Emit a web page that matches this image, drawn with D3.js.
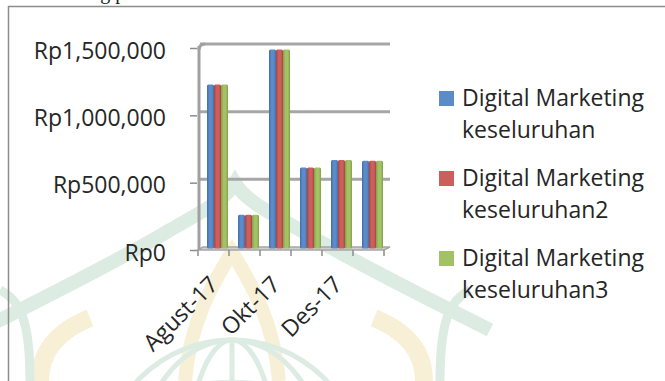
<!DOCTYPE html>
<html>
<head>
<meta charset="utf-8">
<script src="https://cdn.jsdelivr.net/npm/d3@7"></script>
<style>
  body { margin: 0; background: #fff; }
  svg { display: block; font-family: "Open Sans", sans-serif; }
</style>
</head>
<body>
<svg id="chart" width="665" height="381"></svg>
<script>
// data
const months = ['Agust-17', 'Sep-17', 'Okt-17', 'Nov-17', 'Des-17', 'Jan-18'];
const seriesNames = ['Digital Marketing keseluruhan', 'Digital Marketing keseluruhan2', 'Digital Marketing keseluruhan3'];
const dm1 = [1215000, 250000, 1475000, 600000, 655000, 650000];
const dm2 = [1215000, 250000, 1475000, 600000, 655000, 650000];
const dm3 = [1215000, 250000, 1475000, 600000, 655000, 650000];
const yTicks = [0, 500000, 1000000, 1500000];
const colors = ['#5b8bc9', '#cc5f5b', '#a3c265'];
const darks = ['#416ea9', '#a8443f', '#819f48'];

const svg = d3.select('#chart');
const font = '"Open Sans", sans-serif';

// watermark behind everything
const wm = svg.append('g').attr('fill', 'none');
const green = '#dcece2', gold = '#f8f0d6';
wm.append('path')
    .attr('d', 'M -20,330 C 40,300 120,260 170,230 C 205,210 225,200 235,183 C 245,200 265,210 300,230 C 350,260 430,300 490,330')
    .attr('stroke', green).attr('stroke-width', 14);
wm.append('path')
    .attr('d', 'M 40,381 C 40,350 60,330 90,318')
    .attr('stroke', gold).attr('stroke-width', 18);
wm.append('path')
    .attr('d', 'M 424,381 C 424,350 404,330 374,318')
    .attr('stroke', gold).attr('stroke-width', 18);
wm.append('path')
    .attr('d', 'M 185,381 C 190,320 215,280 232,252 C 249,280 274,320 279,381')
    .attr('stroke', gold).attr('stroke-width', 14);
const globe = wm.append('g').attr('stroke', green).attr('stroke-width', 5);
globe.append('circle').attr('cx', 232).attr('cy', 470).attr('r', 130);
[45, 95].forEach(rx => globe.append('ellipse').attr('cx', 232).attr('cy', 470).attr('rx', rx).attr('ry', 130));
globe.append('line').attr('x1', 232).attr('y1', 340).attr('x2', 232).attr('y2', 381);
globe.append('path').attr('d', 'M 120,405 Q 232,360 344,405');
wm.append('path')
    .attr('d', 'M 0,290 C 20,300 30,320 30,381')
    .attr('stroke', green).attr('stroke-width', 9);
wm.append('path')
    .attr('d', 'M 470,290 C 450,300 440,320 440,381')
    .attr('stroke', green).attr('stroke-width', 9);

// cut-off document text above the frame
svg.append('text')
    .attr('x', 27).attr('y', -1)
    .style('font-family', '"Liberation Serif", serif')
    .style('font-size', '20px')
    .attr('fill', '#222')
    .text('Marketing per bulan');

// chart frame
svg.append('rect')
    .attr('x', 8.5).attr('y', 6.5)
    .attr('width', 700).attr('height', 400)
    .attr('fill', 'none')
    .attr('stroke', '#8c8c8c')
    .attr('stroke-width', 1.5);

// scales: front plane, back wall, bars in the middle
const x = d3.scaleBand().domain(months).range([198, 384]).paddingInner(0).paddingOuter(0);
const yFront = d3.scaleLinear().domain([0, 1500000]).range([250, 48]);
const yBack = d3.scaleLinear().domain([0, 1500000]).range([247, 44]);
const yBar = d3.scaleLinear().domain([0, 1500000]).range([248.5, 46]);
const depth = 5;

// gridlines on back wall
svg.append('g')
    .selectAll('line')
    .data(yTicks.slice(1))
    .join('line')
        .attr('x1', 200).attr('x2', 390)
        .attr('y1', d => yBack(d)).attr('y2', d => yBack(d))
        .attr('stroke', '#a6a6a6')
        .attr('stroke-width', 3);

// floor
svg.append('path')
    .attr('d', `M198,${yFront(0)} L${198 + depth},${yBack(0)} L${390},${yBack(0)} L${384},${yFront(0)} Z`)
    .attr('fill', '#d0d0d0')
    .attr('stroke', '#a6a6a6')
    .attr('stroke-width', 1.5);

// wall edge
svg.append('line')
    .attr('x1', 199).attr('x2', 199)
    .attr('y1', yBack(1500000) + 2).attr('y2', yFront(0))
    .attr('stroke', '#a0a0a0')
    .attr('stroke-width', 3);
svg.append('path')
    .attr('d', `M199,${yBack(1500000) + 6} Q199,${yBack(1500000)} 205,${yBack(1500000)}`)
    .attr('stroke', '#a0a0a0').attr('stroke-width', 3).attr('fill', 'none');

// y axis on front plane
const yAxis = d3.axisLeft(yFront)
    .tickValues(yTicks)
    .tickSize(7)
    .tickPadding(24)
    .tickFormat(d => 'Rp' + d3.format(',')(d));
const gy = svg.append('g').attr('transform', 'translate(197,0)').call(yAxis)
    .attr('font-family', font);
gy.select('.domain').remove();
gy.selectAll('.tick line').attr('stroke', '#8c8c8c').attr('stroke-width', 1.5);
gy.selectAll('.tick text')
    .attr('fill', '#262626')
    .style('font-family', font)
    .style('font-size', '23px')
    .attr('dy', '0.36em')
    .attr('y', 2);

// x axis ticks under floor
const xAxis = d3.axisBottom(x).tickSize(0).tickFormat('');
const gx = svg.append('g').attr('transform', `translate(0,${yFront(0)})`).call(xAxis);
gx.select('.domain').remove();
const bounds = months.map(m => x(m)).concat([x.range()[1]]);
gx.selectAll('.sep')
    .data(bounds)
    .join('line')
        .classed('sep', true)
        .attr('x1', d => d).attr('x2', d => d)
        .attr('y1', 0).attr('y2', 6)
        .attr('stroke', '#8c8c8c')
        .attr('stroke-width', 1.5);
gx.selectAll('.mlabel')
    .data(months.filter((m, i) => i % 2 === 0))
    .join('text')
        .classed('mlabel', true)
        .attr('transform', d => `translate(${x(d) + x.bandwidth() / 2 + 6},${36}) rotate(-45)`)
        .attr('text-anchor', 'end')
        .attr('fill', '#262626')
        .style('font-family', font)
        .style('font-size', '23px')
        .text(d => d);

// bar gradients
const defs = svg.append('defs');
colors.forEach((c, i) => {
    const grad = defs.append('linearGradient').attr('id', `grad${i}`).attr('x1', 0).attr('x2', 1).attr('y1', 0).attr('y2', 0);
    grad.append('stop').attr('offset', '0%').attr('stop-color', darks[i]);
    grad.append('stop').attr('offset', '35%').attr('stop-color', c);
    grad.append('stop').attr('offset', '70%').attr('stop-color', c);
    grad.append('stop').attr('offset', '100%').attr('stop-color', darks[i]);
});

// bars
const allSeries = [dm1, dm2, dm3];
const inner = d3.scaleBand().domain([0, 1, 2]).range([0, 21]);
const barGroups = svg.append('g')
    .selectAll('g')
    .data(months)
    .join('g')
        .attr('transform', d => `translate(${x(d) + (x.bandwidth() - 21) / 2 + 4},0)`);
barGroups.selectAll('rect')
    .data((m, mi) => allSeries.map((s, si) => ({si, v: s[mi]})))
    .join('rect')
        .attr('x', d => inner(d.si))
        .attr('y', d => yBar(d.v))
        .attr('width', inner.bandwidth())
        .attr('height', d => yBar(0) - yBar(d.v))
        .attr('rx', 1.5)
        .attr('fill', d => `url(#grad${d.si})`);

// legend
const legend = svg.append('g')
    .selectAll('g')
    .data(seriesNames)
    .join('g')
        .attr('transform', (d, i) => `translate(439,${91 + i * 80})`);
legend.append('rect')
    .attr('width', 15).attr('height', 15)
    .attr('fill', (d, i) => colors[i]);
legend.append('text')
    .attr('x', 23).attr('y', 15)
    .attr('fill', '#262626')
    .style('font-family', font)
    .style('font-size', '23px')
    .selectAll('tspan')
    .data(d => [d.slice(0, 17), d.slice(18)])
    .join('tspan')
        .attr('x', 23)
        .attr('dy', (d, i) => i === 0 ? 0 : 32)
        .text(d => d);
</script>
</body>
</html>
